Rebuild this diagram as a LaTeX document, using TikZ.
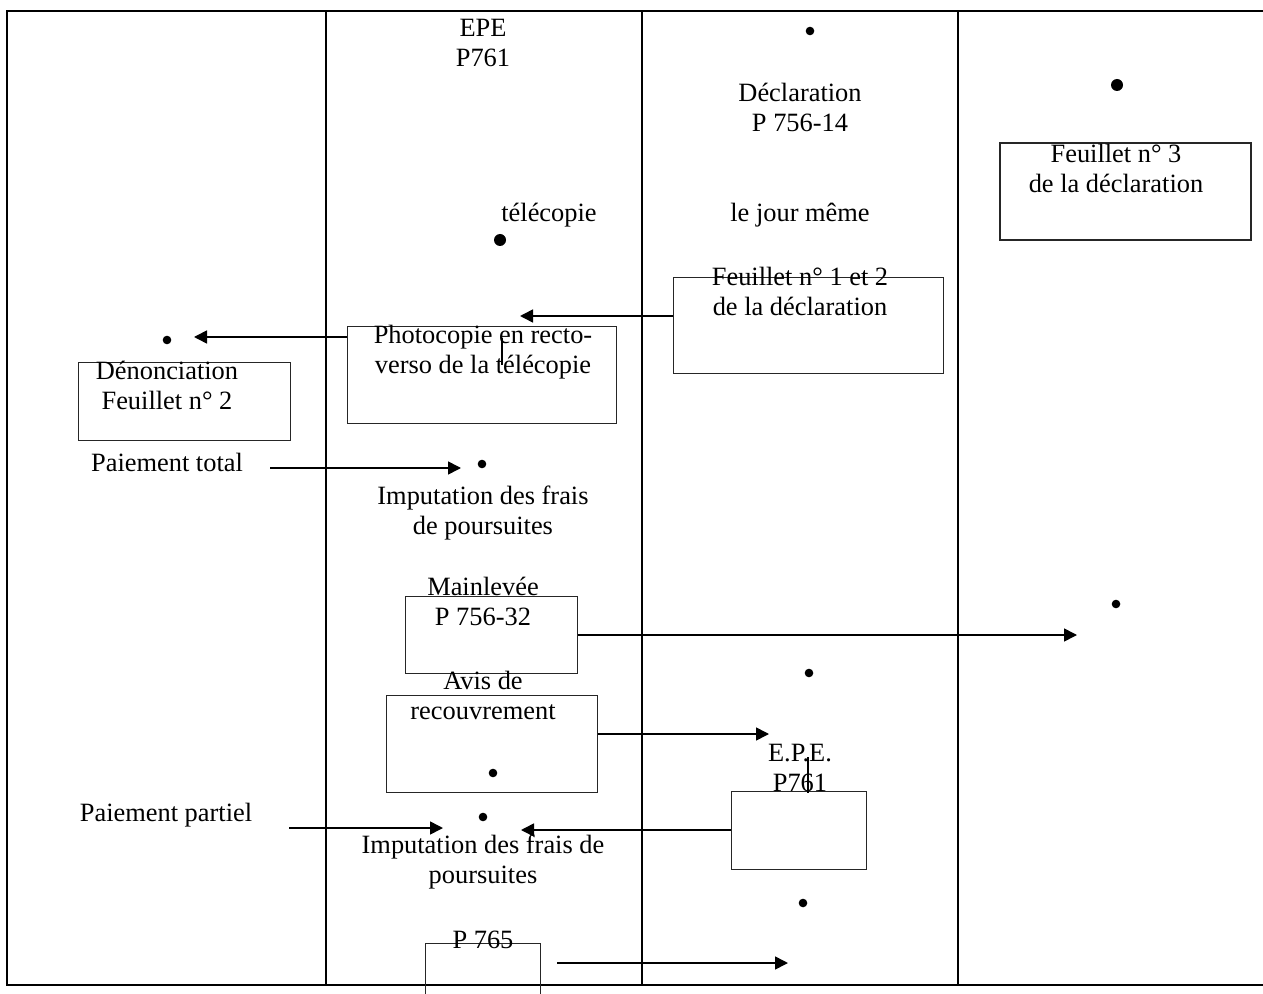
\documentclass[tikz,border=0pt]{standalone}
\usepackage{fontspec}
\setmainfont{Liberation Serif}
\usetikzlibrary{arrows.meta}
\begin{document}
\begin{tikzpicture}[x=0.5pt,y=-0.5pt,
 txt/.style={font=\fontsize{13.2}{15}\selectfont, inner sep=0pt, align=center},
 doc/.style={draw=black!85, line width=0.5pt, inner sep=0pt},
 frame/.style={line width=1.1pt},
 arr/.style={line width=0.8pt, -{Triangle[length=6.5pt,width=6.5pt]}},
 bigdot/.style={circle, fill, inner sep=0pt, minimum size=6pt},
 smalldot/.style={circle, fill, inner sep=0pt, minimum size=4.3pt},
 mark line/.style={line width=0.75pt}]
\clip (0,0) rectangle (1263,994);
\fill[white] (0,0) rectangle (1263,994);
% frame and columns
\draw[frame] (1270,11) -- (7,11) -- (7,985) -- (1270,985);
\foreach \cx in {326,642,958} \draw[frame] (\cx,11) -- (\cx,985);
% boxes
\node[doc, line width=1.2pt, minimum width=125.5pt, minimum height=48.5pt] (b3) at (1125.5,191.5) {};
\node[doc, minimum width=135pt, minimum height=48pt] (b12) at (808,326) {};
\node[doc, minimum width=134.5pt, minimum height=48.5pt] (bphoto) at (481.5,375.5) {};
\node[doc, minimum width=106pt, minimum height=38.5pt] (bden) at (184,401.5) {};
\node[doc, minimum width=86pt, minimum height=38.5pt] (bmain) at (491,634.5) {};
\node[doc, minimum width=105.5pt, minimum height=48.5pt] (bavis) at (491.5,743.5) {};
\node[doc, minimum width=67.5pt, minimum height=39pt] (bepe) at (798.5,830) {};
\node[doc, minimum width=57.5pt, minimum height=40pt] (b765) at (482.5,983) {};
% texts
\node[txt] (tepe) at (483,43) {EPE\\P761};
\node[txt] (tdecl) at (800,107) {Déclaration\\P 756-14};
\node[txt] (tf3) at (1116,168) {Feuillet n° 3\\de la déclaration};
\node[txt] (ttele) at (549,215) {télécopie};
\node[txt] (tjour) at (800,215) {le jour même};
\node[txt] (tf12) at (800,291) {Feuillet n° 1 et 2\\de la déclaration};
\node[txt] (tphoto) at (483,352) {Photocopie en recto-\\verso de la télécopie};
\node[txt] (tden) at (167,385) {Dénonciation\\Feuillet n° 2};
\node[txt] (tptot) at (167,462) {Paiement total};
\node[txt] (timp1) at (483,513) {Imputation des frais\\de poursuites};
\node[txt] (tmain) at (483,601) {Mainlevée\\P 756-32};
\node[txt] (tavis) at (483,695) {Avis de\\recouvrement};
\node[txt] (tepe2) at (800,768) {E.P.E.\\P761};
\node[txt] (tppar) at (166,815) {Paiement partiel};
\node[txt] (timp2) at (483,862) {Imputation des frais de\\poursuites};
\node[txt] (t765) at (483,940) {P 765};
% dots
\node[smalldot] (d1) at (810,31) {};
\node[bigdot] (d2) at (1117,85) {};
\node[bigdot] (d3) at (500,240) {};
\node[smalldot] (d4) at (167,340) {};
\node[smalldot] (d5) at (482,464) {};
\node[smalldot] (d6) at (1116,604) {};
\node[smalldot] (d7) at (809,673) {};
\node[smalldot] (d8) at (493,773) {};
\node[smalldot] (d9) at (483,817) {};
\node[smalldot] (d10) at (803,903) {};
% arrow end points
\coordinate (e1) at (520,316);
\coordinate (e2) at (194,337);
\coordinate (s3) at (270,468);
\coordinate (e3) at (461,468);
\coordinate (e4) at (1077,635);
\coordinate (e5) at (769,734);
\coordinate (e6) at (521,830);
\coordinate (s7) at (289,828);
\coordinate (e7) at (443,828);
\coordinate (s8) at (557,963);
\coordinate (e8) at (788,963);
% connectors
\draw[arr] (b12.west |- e1) -- (e1);
\draw[arr] (bphoto.west |- e2) -- (e2);
\draw[arr] (s3) -- (e3);
\draw[arr] (bmain.east |- e4) -- (e4);
\draw[arr] (bavis.east |- e5) -- (e5);
\draw[arr] (bepe.west |- e6) -- (e6);
\draw[arr] (s7) -- (e7);
\draw[arr] (s8) -- (e8);
% small vertical strokes
\coordinate (m1a) at (502,338);
\coordinate (m1b) at (502,365);
\coordinate (m2a) at (808,757);
\coordinate (m2b) at (808,793);
\draw[mark line] (m1a) -- (m1b);
\draw[mark line] (m2a) -- (m2b);
\end{tikzpicture}
\end{document}
